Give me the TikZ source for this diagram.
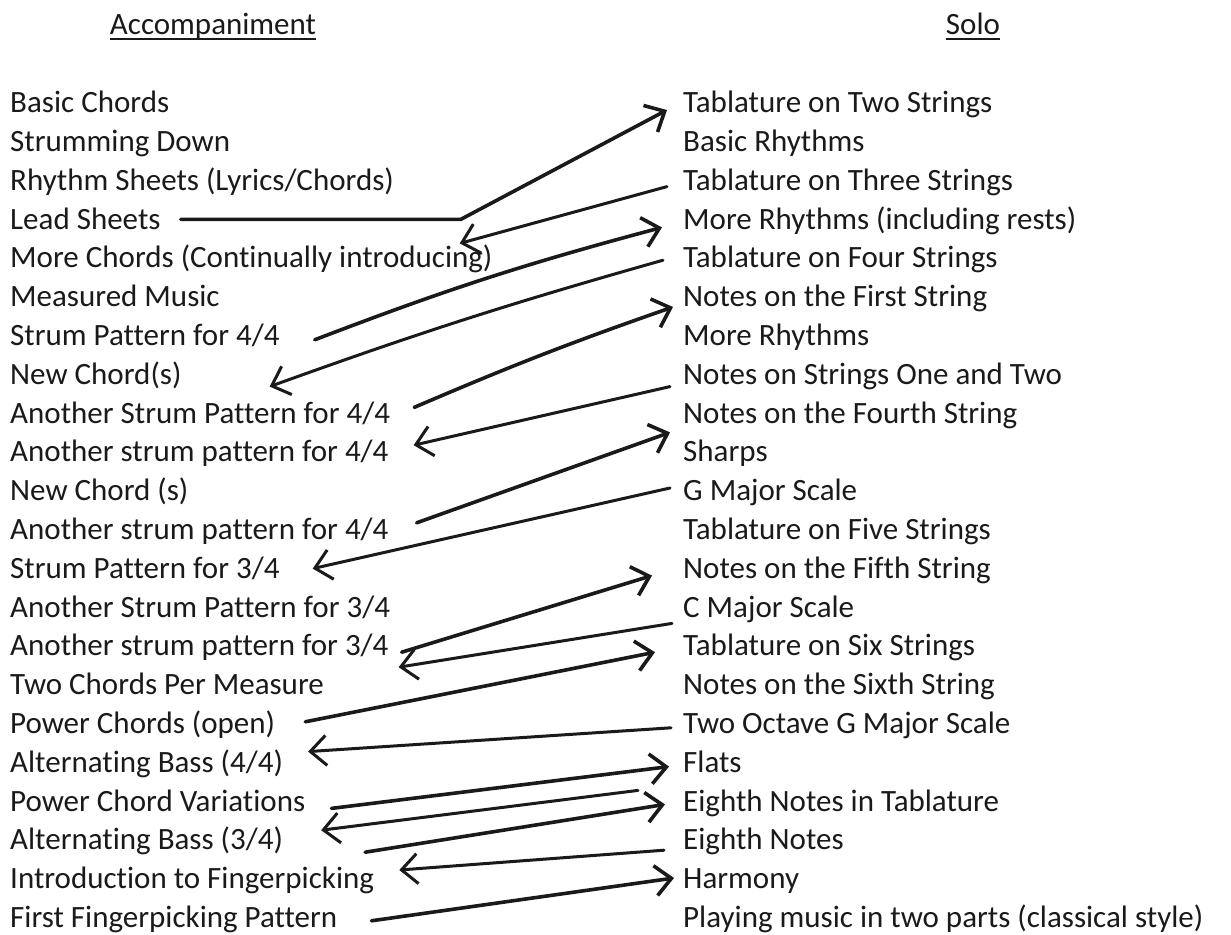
\documentclass[tikz,border=0pt]{standalone}
\usepackage{fontspec}
\setmainfont{Carlito}[Ligatures={NoCommon,NoRare,NoContextual},Contextuals=NoAlternate]
\usetikzlibrary{arrows.meta}
\definecolor{ink}{HTML}{1A1A1A}

\begin{document}
\begin{tikzpicture}[x=1pt,y=-1pt,
  item/.style={anchor=base west,inner sep=0pt,text height=19.4pt,text depth=0pt,
               font=\fontsize{31}{36}\selectfont,text=ink},
  head/.style={anchor=base,inner sep=0pt,font=\fontsize{31}{36}\selectfont,text=ink},
  pen/.style={draw=ink,line width=3.6pt,line cap=round,line join=round},
  back/.style={pen,line width=3pt},
  tip/.style={-{Straight Barb[length=16pt,width=30pt]}}
]
\useasboundingbox[fill=white] (0,0) rectangle (1231,934);

\node[head] (acc)  at (213,35) {Accompaniment};
\node[head] (solo) at (973,35) {Solo};
\draw[ink,line width=1.6pt] ([shift={(0,4)}]acc.base west)  -- ([shift={(0,4)}]acc.base east);
\draw[ink,line width=1.6pt] ([shift={(0,4)}]solo.base west) -- ([shift={(0,4)}]solo.base east);

\foreach \t [count=\i from 0] in {Basic Chords, Strumming Down, Rhythm Sheets (Lyrics/Chords),
  Lead Sheets, More Chords (Continually introducing), Measured Music, Strum Pattern for 4/4,
  New Chord(s), Another Strum Pattern for 4/4, Another strum pattern for 4/4, New Chord (s),
  Another strum pattern for 4/4, Strum Pattern for 3/4, Another Strum Pattern for 3/4,
  Another strum pattern for 3/4, Two Chords Per Measure, Power Chords (open),
  Alternating Bass (4/4), Power Chord Variations, Alternating Bass (3/4),
  Introduction to Fingerpicking, First Fingerpicking Pattern}
  \node[item] (L\i) at (10,{112.7+38.8*\i}) {\t};

\foreach \t [count=\i from 0] in {Tablature on Two Strings, Basic Rhythms, Tablature on Three Strings,
  More Rhythms (including rests), Tablature on Four Strings, Notes on the First String,
  More Rhythms, Notes on Strings One and Two, Notes on the Fourth String, Sharps,
  G Major Scale, Tablature on Five Strings, Notes on the Fifth String, C Major Scale,
  Tablature on Six Strings, Notes on the Sixth String, Two Octave G Major Scale, Flats,
  Eighth Notes in Tablature, Eighth Notes, Harmony, Playing music in two parts (classical style)}
  \node[item] (R\i) at (683,{112.7+38.8*\i}) {\t};

% accompaniment -> solo
\draw[pen,tip] ([shift={(20,0)}]L3.east) -- ([shift={(300,0)}]L3.east) -- ([shift={(-16,7)}]R0.west);
\draw[pen,tip] ([shift={(35,4)}]L6.east)   to[bend left=3] ([shift={(-21,8)}]R3.west);
\draw[pen,tip] ([shift={(24,-6)}]L8.east)  to[bend left=2] ([shift={(-10,10)}]R5.west);
\draw[pen,tip] ([shift={(28,-7)}]L11.east) -- ([shift={(-13,19)}]R8.west);
\draw[pen,tip] ([shift={(13,6)}]L14.east)  -- ([shift={(-31,7)}]R12.west);
\draw[pen,tip] ([shift={(30,-2)}]L16.east) -- ([shift={(-28,6)}]R14.west);
\draw[pen,tip] ([shift={(26,7)}]L18.east)  -- ([shift={(-14,4)}]R17.west);
\draw[pen,tip] ([shift={(82,12)}]L19.east) -- ([shift={(-18,3)}]R18.west);
\draw[pen,tip] ([shift={(34,3)}]L21.east)  -- ([shift={(-9,-1)}]R20.west);

% solo -> accompaniment
\draw[back,tip] ([shift={(-16,6)}]R2.west)    -- ([shift={(299,24)}]L3.east);
\draw[back,tip] ([shift={(-20,2)}]R4.west)    to[bend right=2] ([shift={(88,12)}]L7.east);
\draw[back,tip] ([shift={(-13,12)}]R7.west)   -- ([shift={(25,-7)}]L9.east);
\draw[back,tip] ([shift={(-13,-3)}]R10.west)  -- ([shift={(33,0)}]L12.east);
\draw[back,tip] ([shift={(-11,16)}]R13.west)  -- ([shift={(10,21)}]L14.east);
\draw[back,tip] ([shift={(-12,4)}]R16.west)   -- ([shift={(25,-11)}]L17.east);
\draw[back,tip] ([shift={(-45,-11)}]R18.west) -- ([shift={(38,-10)}]L19.east);
\draw[back,tip] ([shift={(-19,10)}]R19.west)  -- ([shift={(25,-9)}]L20.east);

\end{tikzpicture}
\end{document}
